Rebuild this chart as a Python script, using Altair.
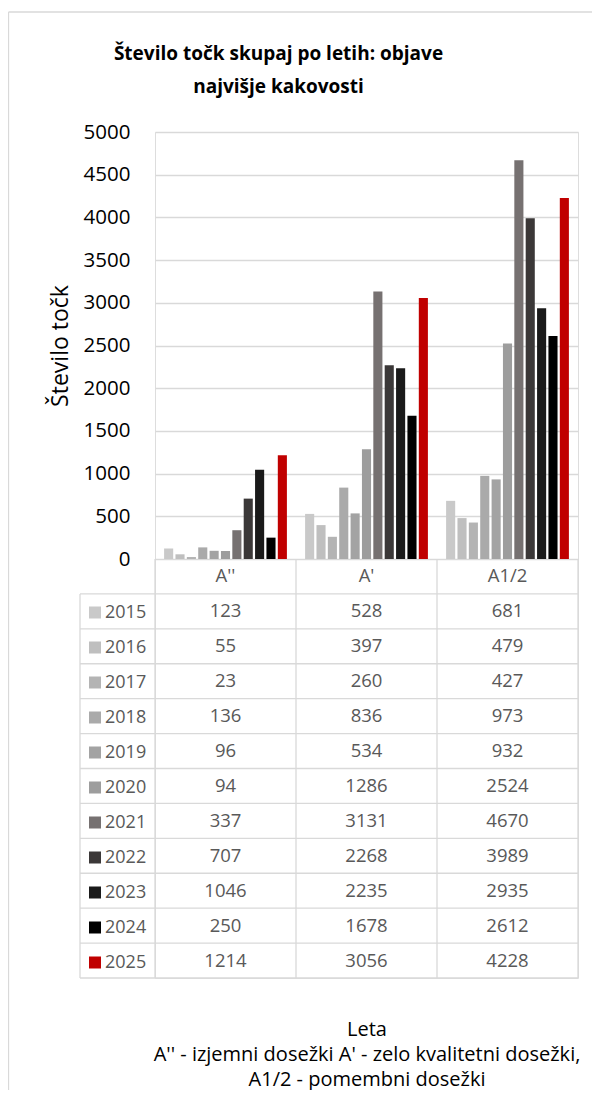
import altair as alt
import pandas as pd

categories = ["A''", "A'", "A1/2"]
years = ["2015", "2016", "2017", "2018", "2019", "2020", "2021", "2022", "2023", "2024", "2025"]
values_a2 = [123, 55, 23, 136, 96, 94, 337, 707, 1046, 250, 1214]
values_a1 = [528, 397, 260, 836, 534, 1286, 3131, 2268, 2235, 1678, 3056]
values_a12 = [681, 479, 427, 973, 932, 2524, 4670, 3989, 2935, 2612, 4228]
year_colors = ["#c9c9c9", "#bfbfbf", "#b4b4b4", "#aaaaaa", "#a3a3a3", "#9d9d9d",
               "#767171", "#3b3838", "#1a1a1a", "#000000", "#c00000"]
y_ticks = [0, 500, 1000, 1500, 2000, 2500, 3000, 3500, 4000, 4500, 5000]

title_lines = ["Število točk skupaj po letih: objave", "najvišje kakovosti"]
y_title = "Število točk"
x_title = ["Leta", "A'' - izjemni dosežki A' - zelo kvalitetni dosežki,", "A1/2 - pomembni dosežki"]

FONT = "Open Sans"
W, H = 423, 846
BAR_H = 427
PAD = {"left": 147, "top": 124, "right": 14, "bottom": 112}

series = {"A''": values_a2, "A'": values_a1, "A1/2": values_a12}
bars_df = pd.DataFrame([
    {"cat": c, "year": y, "value": v}
    for c in categories for y, v in zip(years, series[c])
])
rows = ["hdr"] + years
table_df = pd.DataFrame(
    [{"cat": c, "row": "hdr", "label": c} for c in categories]
    + [{"cat": c, "row": y, "label": str(v)} for c in categories for y, v in zip(years, series[c])]
)
hline_df = pd.DataFrame({"row": years})
hline_last_df = pd.DataFrame({"row": [years[-1]]})
vline_df = pd.DataFrame({"cat": categories})
vline_last_df = pd.DataFrame({"cat": [categories[-1]]})
one = pd.DataFrame({"k": [0]})

xs = alt.Scale(domain=categories, paddingInner=0, paddingOuter=0)
ys_tab = alt.Scale(type="band", domain=rows, range=[BAR_H, H], paddingInner=0, paddingOuter=0)
x_axis = alt.Axis(orient="bottom", labels=False, ticks=False, domain=False, grid=False,
                  title=x_title, titleFont=FONT, titleFontSize=20, titleFontWeight="normal",
                  titleColor="#000000", titleLineHeight=25, titlePadding=41)
GRID = "#d9d9d9"

bars = alt.Chart(bars_df).mark_bar().encode(
    x=alt.X("cat:N", scale=xs, axis=x_axis, sort=categories),
    xOffset=alt.XOffset("year:N", scale=alt.Scale(domain=years, paddingInner=0.2, paddingOuter=0.8)),
    y=alt.Y("value:Q", scale=alt.Scale(domain=[0, 5000], range=[BAR_H, 0], nice=False),
            axis=alt.Axis(values=y_ticks, format="d", grid=True, gridColor=GRID, gridWidth=1.3,
                          domain=False, ticks=False, labelFont=FONT, labelFontSize=20.5,
                          labelColor="#000000", labelPadding=25, title=y_title, titleFont=FONT,
                          titleFontSize=23, titleFontWeight="normal", titleColor="#000000",
                          titlePadding=11)),
    color=alt.Color("year:N", scale=alt.Scale(domain=years, range=year_colors),
                    legend=alt.Legend(orient="none", legendX=-69, legendY=471.5, title=None,
                                      symbolType="square", symbolSize=144, symbolStrokeWidth=0,
                                      labelFont=FONT, labelFontSize=18, labelColor="#595959",
                                      labelOffset=1, rowPadding=17, padding=0)),
)

table_text = alt.Chart(table_df).mark_text(font=FONT, fontSize=18.5, color="#595959").encode(
    x=alt.X("cat:N", scale=xs, axis=x_axis, sort=categories),
    y=alt.Y("row:N", scale=ys_tab, axis=None, sort=rows),
    text="label:N",
)

hlines = alt.Chart(hline_df).mark_rule(color=GRID, strokeWidth=1.3).encode(
    y=alt.Y("row:N", scale=ys_tab, axis=None, bandPosition=0, sort=rows),
    x=alt.value(-75), x2=alt.value(W),
)
hline_last = alt.Chart(hline_last_df).mark_rule(color=GRID, strokeWidth=1.3).encode(
    y=alt.Y("row:N", scale=ys_tab, axis=None, bandPosition=1, sort=rows),
    x=alt.value(-75), x2=alt.value(W),
)
vlines = alt.Chart(vline_df).mark_rule(color=GRID, strokeWidth=1.3).encode(
    x=alt.X("cat:N", scale=xs, axis=x_axis, bandPosition=0, sort=categories),
    y=alt.value(BAR_H), y2=alt.value(H),
)
vline_last = alt.Chart(vline_last_df).mark_rule(color=GRID, strokeWidth=1.3).encode(
    x=alt.X("cat:N", scale=xs, axis=x_axis, bandPosition=1, sort=categories),
    y=alt.value(BAR_H), y2=alt.value(H),
)
left_border = alt.Chart(one).mark_rule(color=GRID, strokeWidth=1.3).encode(
    x=alt.value(-75), y=alt.value(BAR_H + (H - BAR_H) / 12), y2=alt.value(H),
)
frame_left = alt.Chart(one).mark_rule(color=GRID, strokeWidth=1.3).encode(
    x=alt.value(-PAD["left"] + 0.5), y=alt.value(-120), y2=alt.value(H + PAD["bottom"]),
)
frame_top = alt.Chart(one).mark_rule(color=GRID, strokeWidth=1.3).encode(
    x=alt.value(-PAD["left"] + 0.5), x2=alt.value(W + PAD["right"]), y=alt.value(-120),
)

chart = alt.layer(
    frame_left, frame_top, hlines, hline_last, vlines, vline_last, left_border, bars, table_text
).resolve_scale(y="independent").properties(
    width=W, height=H,
    autosize=alt.AutoSizeParams(type="none"),
    padding=PAD,
    title=alt.Title(text=title_lines, font=FONT, fontSize=19, fontWeight="bold", color="#000000",
                    anchor="middle", frame="group", dx=-88, offset=-86, lineHeight=33),
).configure_view(stroke=None).configure(background="white")

chart.save("out.html", embed_options={"renderer": "svg", "actions": False})
